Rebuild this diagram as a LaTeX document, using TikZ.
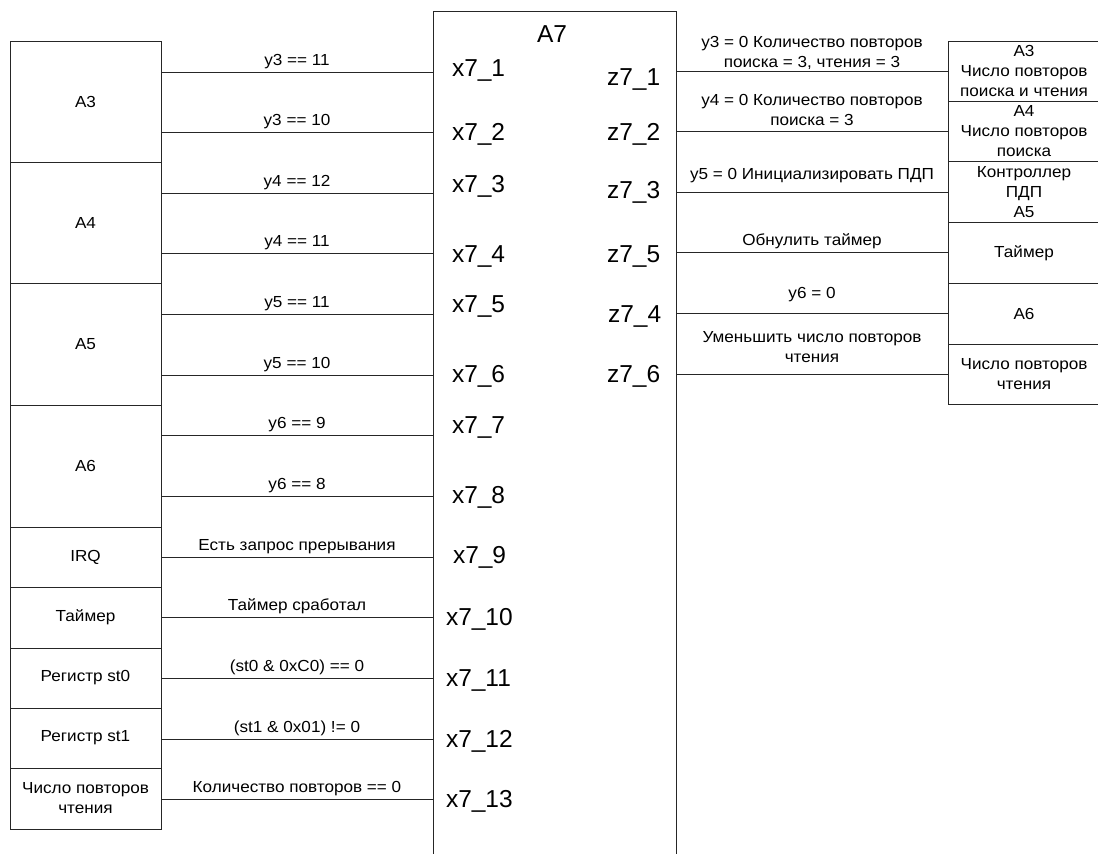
\documentclass[tikz,border=0pt]{standalone}
\usepackage{fontspec}
\setmainfont{Liberation Sans}
\newfontfamily\widesans[FakeStretch=1.07]{Liberation Sans}
\newcommand\fsmall{\widesans\fontsize{16}{20}\selectfont}
\newcommand\fbig{\fontsize{24.5}{28}\selectfont}
\begin{document}
\begin{tikzpicture}[x=1pt,y=-1pt,
  every node/.style={inner sep=0pt, outer sep=0pt},
  blk/.style={draw=black!85, line width=0.9pt, minimum width=151pt, align=center, font=\fsmall},
  rblk/.style={blk, minimum width=152pt, anchor=north west},
  wire/.style={draw=black!85, line width=0.9pt},
  lbl/.style={font=\fsmall, align=center},
  lbase/.style={lbl, anchor=base, yshift=7pt},
  port/.style={font=\fbig, anchor=base west},
]
\useasboundingbox (0,0) rectangle (1098,854);
\clip (0,0) rectangle (1098,854);

% central block
\node[draw=black!85, line width=0.9pt, minimum width=243pt, minimum height=880pt, anchor=north west] (A7) at (433,11) {};
\node[font=\fbig, anchor=base] (A7t) at (552,42) {A7};

% left blocks
\node[blk, minimum height=121pt] (L3) at (85.5,101.5) {A3};
\node[blk, minimum height=121pt] (L4) at (85.5,222.5) {A4};
\node[blk, minimum height=122pt] (L5) at (85.5,344) {A5};
\node[blk, minimum height=122pt] (L6) at (85.5,466) {A6};
\node[blk, minimum height=60pt] (LI) at (85.5,557) {IRQ};
\node[blk, minimum height=61pt] (LT) at (85.5,617.5) {Таймер};
\node[blk, minimum height=60pt] (LS0) at (85.5,678) {Регистр st0};
\node[blk, minimum height=60pt] (LS1) at (85.5,738) {Регистр st1};
\node[blk, minimum height=61pt] (LC) at (85.5,798.5) {Число повторов\\чтения};

% input ports on A7
\coordinate (p1) at (433,72);
\coordinate (p2) at (433,132);
\coordinate (p3) at (433,193);
\coordinate (p4) at (433,253);
\coordinate (p5) at (433,314);
\coordinate (p6) at (433,375);
\coordinate (p7) at (433,435);
\coordinate (p8) at (433,496);
\coordinate (p9) at (433,557);
\coordinate (p10) at (433,617);
\coordinate (p11) at (433,678);
\coordinate (p12) at (433,739);
\coordinate (p13) at (433,799);

\draw[wire] (p1 -| L3.east) -- node[lbase] {y3 == 11} (p1);
\draw[wire] (p2 -| L3.east) -- node[lbase] {y3 == 10} (p2);
\draw[wire] (p3 -| L4.east) -- node[lbase] {y4 == 12} (p3);
\draw[wire] (p4 -| L4.east) -- node[lbase] {y4 == 11} (p4);
\draw[wire] (p5 -| L5.east) -- node[lbase] {y5 == 11} (p5);
\draw[wire] (p6 -| L5.east) -- node[lbase] {y5 == 10} (p6);
\draw[wire] (p7 -| L6.east) -- node[lbase] {y6 == 9} (p7);
\draw[wire] (p8 -| L6.east) -- node[lbase] {y6 == 8} (p8);
\draw[wire] (LI.east |- p9) -- node[lbase] {Есть запрос прерывания} (p9);
\draw[wire] (LT.east |- p10) -- node[lbase] {Таймер сработал} (p10);
\draw[wire] (LS0.east |- p11) -- node[lbase] {(st0 \& 0xC0) == 0} (p11);
\draw[wire] (LS1.east |- p12) -- node[lbase] {(st1 \& 0x01) != 0} (p12);
\draw[wire] (LC.east |- p13) -- node[lbase] {Количество повторов == 0} (p13);

% input labels
\node[port] (x1) at (452,76) {x7\_1};
\node[port] (x2) at (452,140) {x7\_2};
\node[port] (x3) at (452,192) {x7\_3};
\node[port] (x4) at (452,262) {x7\_4};
\node[port] (x5) at (452,312) {x7\_5};
\node[port] (x6) at (452,382) {x7\_6};
\node[port] (x7) at (452,433) {x7\_7};
\node[port] (x8) at (452,503) {x7\_8};
\node[port] (x9) at (453,563) {x7\_9};
\node[port] (x10) at (446,625) {x7\_10};
\node[port] (x11) at (446,686) {x7\_11};
\node[port] (x12) at (446,747) {x7\_12};
\node[port] (x13) at (446,807) {x7\_13};

% output labels
\node[port] (z1) at (607,85) {z7\_1};
\node[port] (z2) at (607,140) {z7\_2};
\node[port] (z3) at (607,198) {z7\_3};
\node[port] (z5) at (607,262) {z7\_5};
\node[port] (z4) at (608,322) {z7\_4};
\node[port] (z6) at (607,382) {z7\_6};

% right blocks
\node[rblk, minimum height=59.3pt] (R1) at (948,41.7) {A3\\Число повторов\\поиска и чтения};
\node[rblk, minimum height=60.7pt] (R2) at (948,101) {A4\\Число повторов\\поиска};
\node[rblk, minimum height=61pt] (R3) at (948,161.7) {Контроллер\\ПДП\\A5};
\node[rblk, minimum height=60.3pt] (R4) at (948,222.7) {Таймер};
\node[rblk, minimum height=61pt] (R5) at (948,283) {A6};
\node[rblk, minimum height=60pt] (R6) at (948,344) {Число повторов\\чтения};

\draw[wire] (A7.east |- R1.west) -- node[lbl, yshift=18pt] {y3 = 0 Количество повторов\\поиска = 3, чтения = 3} (R1.west);
\draw[wire] (A7.east |- R2.west) -- node[lbl, yshift=21pt] {y4 = 0 Количество повторов\\поиска = 3} (R2.west);
\draw[wire] (A7.east |- R3.west) -- node[lbl, anchor=base, yshift=13pt] {y5 = 0 Инициализировать ПДП} (R3.west);
\draw[wire] (A7.east |- R4.west) -- node[lbl, anchor=base, yshift=7pt] {Обнулить таймер} (R4.west);
\draw[wire] (A7.east |- R5.west) -- node[lbl, anchor=base, yshift=15pt] {y6 = 0} (R5.west);
\draw[wire] (A7.east |- R6.west) -- node[lbl, yshift=27pt] {Уменьшить число повторов\\чтения} (R6.west);
\end{tikzpicture}
\end{document}
